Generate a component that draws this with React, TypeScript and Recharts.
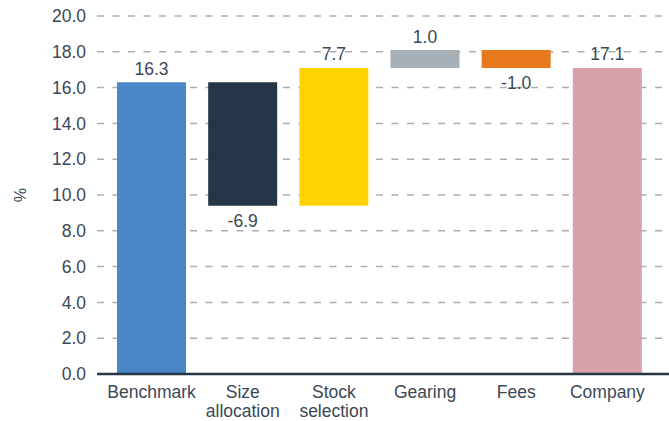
import React from 'react';
import { BarChart, Bar, XAxis, YAxis, CartesianGrid, Cell, LabelList, Label, ReferenceLine } from 'recharts';

const categories = ['Benchmark', 'Size\nallocation', 'Stock\nselection', 'Gearing', 'Fees', 'Company'];
const changes = [16.3, -6.9, 7.7, 1.0, -1.0, 17.1];
const isTotal = [true, false, false, false, false, true];
const yTicks = [0, 2, 4, 6, 8, 10, 12, 14, 16, 18, 20];
const COLORS = ['#4a86c8', '#253746', '#ffd200', '#a8b0b7', '#e8781c', '#d8a0aa'];

const TEXT = '#3b4856';
const FONT = "'Liberation Sans', Arial, sans-serif";

let running = 0;
const data = categories.map((name, i) => {
  const v = changes[i];
  let low: number;
  let high: number;
  if (isTotal[i]) {
    low = 0;
    high = v;
    running = v;
  } else {
    const start = running;
    const end = Math.round((running + v) * 10) / 10;
    low = Math.min(start, end);
    high = Math.max(start, end);
    running = end;
  }
  return { name, range: [low, high], value: v };
});

const CategoryTick = (props: any) => {
  const { x, y, payload } = props;
  const lines = String(payload.value).split('\n');
  return (
    <text x={x} y={y} textAnchor="middle" fill={TEXT} fontSize={17.5} fontFamily={FONT}>
      {lines.map((l, i) => (
        <tspan key={i} x={x} dy={i === 0 ? 16 : 19}>
          {l}
        </tspan>
      ))}
    </text>
  );
};

const ValueLabel = (props: any) => {
  const { x, y, width, height, value } = props;
  const top = Math.min(y, y + height);
  const bottom = Math.max(y, y + height);
  const v = Number(value);
  const ty = v < 0 ? bottom + 21.5 : top - 7.5;
  return (
    <text x={x + width / 2} y={ty} textAnchor="middle" fill={TEXT} fontSize={17.5} fontFamily={FONT}>
      {v.toFixed(1)}
    </text>
  );
};

const BaseLine = (props: any) => {
  const { x1, y1, x2, y2 } = props;
  return <line x1={x1} y1={y1} x2={x2} y2={y2} stroke="#253746" strokeWidth={2.5} />;
};

export default function App() {
  return (
    <div style={{ position: 'absolute', left: 0, top: 0, width: 669, height: 421, background: '#fff' }}>
      <BarChart width={669} height={421} data={data} margin={{ top: 16, right: 0, bottom: 0, left: 0 }}>
        <CartesianGrid vertical={false} stroke="#a9aeb3" strokeWidth={1.5} strokeDasharray="7 8.5" />
        <XAxis
          dataKey="name"
          axisLine={false}
          tickLine={false}
          height={47}
          interval={0}
          padding={{ left: 9, right: 16 }}
          tick={<CategoryTick />}
        />
        <YAxis
          domain={[0, 20]}
          ticks={yTicks}
          tickFormatter={(v: number) => v.toFixed(1)}
          axisLine={false}
          tickLine={false}
          width={97}
          tickMargin={5}
          tick={{ fill: TEXT, fontSize: 17.5, fontFamily: FONT }}
        >
          <Label
            content={(p: any) => {
              const vb = p.viewBox || { x: 0, y: 16, height: 358 };
              const cx = vb.x + 20;
              const cy = vb.y + vb.height / 2;
              return (
                <text
                  x={cx}
                  y={cy}
                  textAnchor="middle"
                  dominantBaseline="central"
                  transform={`rotate(-90 ${cx} ${cy})`}
                  fill={TEXT}
                  fontSize={16}
                  fontFamily={FONT}
                >
                  %
                </text>
              );
            }}
          />
        </YAxis>
        <Bar dataKey="range" barSize={69} isAnimationActive={false}>
          {data.map((d, i) => (
            <Cell key={d.name} fill={COLORS[i]} />
          ))}
          <LabelList dataKey="value" content={<ValueLabel />} />
        </Bar>
        <ReferenceLine y={0} shape={<BaseLine />} />
      </BarChart>
    </div>
  );
}
